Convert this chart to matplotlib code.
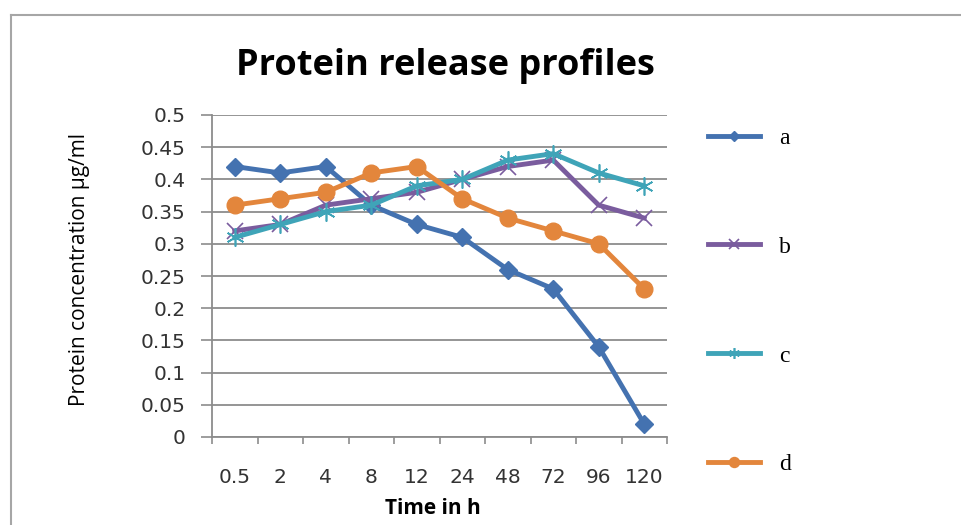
import matplotlib
matplotlib.use("Agg")
import matplotlib.pyplot as plt
from matplotlib.lines import Line2D

categories = ["0.5", "2", "4", "8", "12", "24", "48", "72", "96", "120"]
series_a = [0.42, 0.41, 0.42, 0.36, 0.33, 0.31, 0.26, 0.23, 0.14, 0.02]
series_b = [0.32, 0.33, 0.36, 0.37, 0.38, 0.40, 0.42, 0.43, 0.36, 0.34]
series_c = [0.31, 0.33, 0.35, 0.36, 0.39, 0.40, 0.43, 0.44, 0.41, 0.39]
series_d = [0.36, 0.37, 0.38, 0.41, 0.42, 0.37, 0.34, 0.32, 0.30, 0.23]
y_ticks = [0, 0.05, 0.1, 0.15, 0.2, 0.25, 0.3, 0.35, 0.4, 0.45, 0.5]
y_labels = ["0", "0.05", "0.1", "0.15", "0.2", "0.25", "0.3", "0.35", "0.4", "0.45", "0.5"]

W, H = 961, 525
fig = plt.figure(figsize=(W / 100, H / 100), dpi=100)
ax = fig.add_axes([212 / W, 1 - 437 / H, (667 - 212) / W, (437 - 115) / H])

grid_col = "#8c8c8c"
x = [i + 0.5 for i in range(len(categories))]

asterisk = (6, 2, 0)
ax.plot(x, series_a, color="#4472B0", lw=3.5, marker="D", ms=9, label="a", zorder=3)
ax.plot(x, series_b, color="#7A5C9E", lw=3.5, marker="x", ms=11, mew=1.2, label="b", zorder=3)
ax.plot(x, series_c, color="#3FA4B8", lw=3.5, marker=asterisk, ms=13, mew=1.2, label="c", zorder=3)
ax.plot(x, series_d, color="#E3863C", lw=3.5, marker="o", ms=12, label="d", zorder=3)

ax.set_xlim(0, len(categories))
ax.set_ylim(0, 0.5)
ax.set_yticks(y_ticks)
ax.set_yticklabels(y_labels, fontsize=14.5, color="#333333", family="DejaVu Sans")
ax.set_xticks(range(len(categories) + 1))
ax.set_xticklabels([])
ax.set_xticks(x, minor=True)
ax.set_xticklabels(categories, minor=True, fontsize=14.5, color="#333333", family="DejaVu Sans")
ax.tick_params(axis="x", which="minor", length=0, pad=22)
ax.tick_params(axis="x", which="major", length=5, color=grid_col, width=1.2)
ax.tick_params(axis="y", length=8, color=grid_col, width=1.2, pad=11)

ax.grid(axis="y", color=grid_col, lw=1.3)
ax.set_axisbelow(True)
for s in ["top", "right"]:
    ax.spines[s].set_visible(False)
for s in ["left", "bottom"]:
    ax.spines[s].set_color(grid_col)
    ax.spines[s].set_linewidth(1.3)

ax.set_xlabel("Time in h", fontsize=15, fontweight="bold", family="Open Sans")
ax.xaxis.set_label_coords((433 - 212) / (667 - 212), -(508 - 437) / (437 - 115))
ax.set_ylabel("Protein concentration \u00b5g/ml", fontsize=15, family="Open Sans")
ax.yaxis.set_label_coords(-(212 - 80) / (667 - 212), (437 - 270) / (437 - 115))
ax.yaxis.label.set_va("center")
ax.xaxis.label.set_va("center")

fig.text(445 / W, 1 - 66 / H, "Protein release profiles", fontsize=26, fontweight="bold",
         family="Open Sans", ha="center", va="center")

leg = ax.legend(loc="upper left", bbox_to_anchor=(687 / W, 1 - 106 / H), bbox_transform=fig.transFigure,
                frameon=False, prop={"family": "Liberation Serif", "size": 17},
                labelspacing=3.7, handlelength=2.2, handletextpad=0.8, markerscale=0.6)

border_col = "#a6a6a6"
fig.add_artist(Line2D([11 / W, 1], [1 - 15 / H, 1 - 15 / H], transform=fig.transFigure, color=border_col, lw=1.5))
fig.add_artist(Line2D([11 / W, 11 / W], [0, 1 - 15 / H], transform=fig.transFigure, color=border_col, lw=1.5))

fig.savefig("out.png", dpi=100)
